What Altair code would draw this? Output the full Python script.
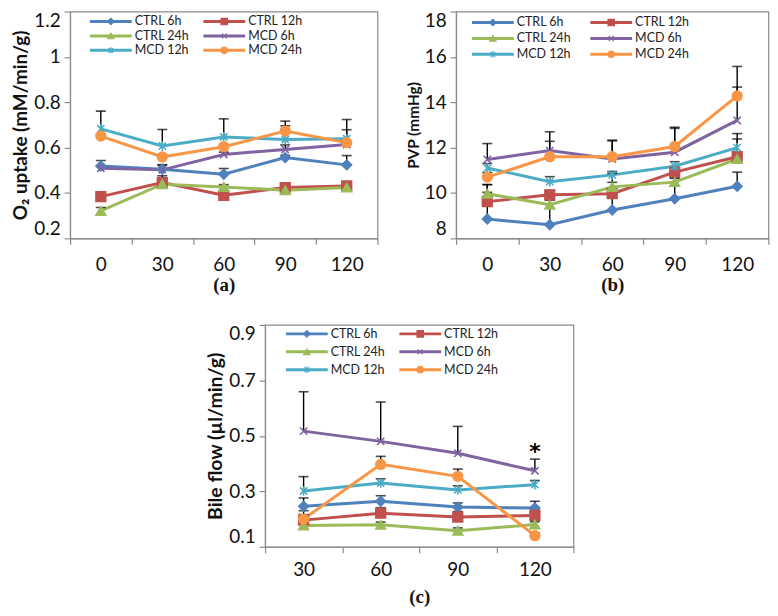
import altair as alt
import pandas as pd

# ---------------- data ----------------
SERIES = ["CTRL 6h", "CTRL 12h", "CTRL 24h", "MCD 6h", "MCD 12h", "MCD 24h"]
COLORS = ["#4F81BD", "#C0504D", "#9BBB59", "#8064A2", "#4BACC6", "#F79646"]

TIMES_AB = ["0", "30", "60", "90", "120"]
TIMES_C = ["30", "60", "90", "120"]

# (a) O2 uptake (mM/min/g)
O2_CTRL_6H = [0.519, 0.505, 0.483, 0.556, 0.524]
O2_CTRL_12H = [0.384, 0.446, 0.390, 0.424, 0.431]
O2_CTRL_24H = [0.321, 0.439, 0.427, 0.412, 0.424]
O2_MCD_6H = [0.509, 0.502, 0.570, 0.592, 0.614]
O2_MCD_12H = [0.683, 0.607, 0.647, 0.636, 0.639]
O2_MCD_24H = [0.651, 0.559, 0.604, 0.673, 0.622]
O2_CTRL_6H_ERR = [0.024, 0.020, 0.025, 0.010, 0.041]
O2_CTRL_12H_ERR = [0.010, 0.030, 0.010, 0.010, 0.010]
O2_CTRL_24H_ERR = [0.015, 0.010, 0.010, 0.010, 0.010]
O2_MCD_6H_ERR = [0.010, 0.020, 0.010, 0.020, 0.010]
O2_MCD_12H_ERR = [0.078, 0.073, 0.080, 0.060, 0.085]
O2_MCD_24H_ERR = [0.010, 0.010, 0.010, 0.044, 0.057]

# (b) PVP (mmHg)
PVP_CTRL_6H = [8.85, 8.60, 9.25, 9.75, 10.30]
PVP_CTRL_12H = [9.62, 9.92, 9.97, 10.92, 11.60]
PVP_CTRL_24H = [9.97, 9.48, 10.27, 10.48, 11.50]
PVP_MCD_6H = [11.48, 11.87, 11.50, 11.80, 13.20]
PVP_MCD_12H = [11.10, 10.50, 10.80, 11.18, 12.00]
PVP_MCD_24H = [10.70, 11.60, 11.60, 12.05, 14.28]
PVP_CTRL_6H_ERR = [1.18, 1.30, 0.90, 0.90, 0.62]
PVP_CTRL_12H_ERR = [0.75, 0.20, 0.90, 0.20, 0.78]
PVP_CTRL_24H_ERR = [0.40, 0.20, 0.20, 0.20, 0.20]
PVP_MCD_6H_ERR = [0.70, 0.83, 0.80, 1.05, 1.47]
PVP_MCD_12H_ERR = [0.20, 0.22, 0.15, 0.20, 0.62]
PVP_MCD_24H_ERR = [0.20, 0.68, 0.73, 0.85, 1.30]

# (c) Bile flow (ul/min/g)
BILE_CTRL_6H = [0.246, 0.264, 0.243, 0.240]
BILE_CTRL_12H = [0.196, 0.221, 0.207, 0.213]
BILE_CTRL_24H = [0.177, 0.179, 0.158, 0.180]
BILE_MCD_6H = [0.517, 0.480, 0.437, 0.374]
BILE_MCD_12H = [0.301, 0.330, 0.305, 0.324]
BILE_MCD_24H = [0.200, 0.397, 0.354, 0.140]
BILE_CTRL_6H_ERR = [0.030, 0.020, 0.015, 0.024]
BILE_CTRL_12H_ERR = [0.020, 0.020, 0.020, 0.020]
BILE_CTRL_24H_ERR = [0.010, 0.010, 0.010, 0.010]
BILE_MCD_6H_ERR = [0.142, 0.142, 0.097, 0.042]
BILE_MCD_12H_ERR = [0.052, 0.015, 0.015, 0.015]
BILE_MCD_24H_ERR = [0.030, 0.029, 0.026, 0.010]

STAR_TIME = ["120"]
STAR_VALUE = [0.44]

LEG_COL = [0, 1, 0, 1, 0, 1]
LEG_ROW = [0, 0, 1, 1, 2, 2]

# ---------------- styling ----------------
FONT = "Lato"
SHAPES = [
    "diamond",
    "square",
    "triangle-up",
    "M-0.75,-0.75L0.75,0.75M0.75,-0.75L-0.75,0.75",
    "M-0.75,-0.75L0.75,0.75M0.75,-0.75L-0.75,0.75M0,-1L0,1",
    "circle",
]
SIZES = [95, 95, 105, 110, 130, 150]

color_scale = alt.Scale(domain=SERIES, range=COLORS)
shape_scale = alt.Scale(domain=SERIES, range=SHAPES)
size_scale = alt.Scale(domain=SERIES, range=SIZES)


def build_df(times, vals, errs):
    rows = []
    for s, v, e in zip(SERIES, vals, errs):
        for t, vv, ee in zip(times, v, e):
            rows.append({"time": t, "series": s, "value": vv, "top": vv + ee})
    return pd.DataFrame(rows)


def panel(df, times, ydom, yvals, ytitle, ytitle_size, caption, w, h,
          leg_x, leg_y, xlabpad, xtitlepad, star=None):
    base = alt.Chart(df)
    x = alt.X("time:N", sort=times,
              scale=alt.Scale(domain=times, paddingInner=0, paddingOuter=0),
              axis=alt.Axis(title=caption, labelAngle=0, tickBand="extent",
                            labelPadding=xlabpad,
                            titleFont="Liberation Serif", titleFontSize=19,
                            titleFontWeight="bold", titlePadding=xtitlepad))
    y = alt.Y("value:Q", scale=alt.Scale(domain=ydom, nice=False, zero=False),
              axis=alt.Axis(title=ytitle, values=yvals, format="~g",
                            labelFlush=True,
                            titleFontSize=ytitle_size, titlePadding=3))
    col = alt.Color("series:N", scale=color_scale, legend=None)
    lines = base.mark_line(strokeWidth=3).encode(
        x=x, y=y, color=col, detail="series:N")
    err = base.mark_rule(color="black", strokeWidth=1.4).encode(
        x=x, y="value:Q", y2="top:Q", detail="series:N")
    caps = base.mark_tick(color="black", thickness=1.6, size=10).encode(
        x=x, y="top:Q", detail="series:N")
    pts = base.mark_point(filled=True, strokeWidth=1.6, opacity=1).encode(
        x=x, y="value:Q",
        color=col,
        stroke=alt.Stroke("series:N", scale=color_scale, legend=None),
        shape=alt.Shape("series:N", scale=shape_scale, legend=None),
        size=alt.Size("series:N", scale=size_scale, legend=None),
    )
    layers = [lines, err, caps, pts]
    if star is not None:
        sdf = pd.DataFrame({"time": star[0], "value": star[1]})
        layers.append(alt.Chart(sdf).mark_text(
            text="*", fontSize=22, fontWeight="bold", font="DejaVu Sans",
            color="black", baseline="middle").encode(x=x, y="value:Q"))
    main = alt.layer(*layers)

    leg = pd.DataFrame({"series": SERIES, "col": LEG_COL, "row": LEG_ROW})
    lb = alt.Chart(leg)
    lx = alt.X("col:O", scale=alt.Scale(type="point", range=leg_x, padding=0),
               axis=None)
    ly = alt.Y("row:O", scale=alt.Scale(type="point", range=leg_y, padding=0),
               axis=None)
    lrule = lb.mark_rule(strokeWidth=3, xOffset=-21, x2Offset=21).encode(
        x=lx, x2="col:O", y=ly, color=col)
    lpts = lb.mark_point(filled=True, strokeWidth=1.2, opacity=1, size=42).encode(
        x=lx, y=ly, color=col,
        stroke=alt.Stroke("series:N", scale=color_scale, legend=None),
        shape=alt.Shape("series:N", scale=shape_scale, legend=None))
    ltxt = lb.mark_text(align="left", baseline="middle", dx=24, font=FONT,
                        fontSize=12.5, color="#222").encode(
        x=lx, y=ly, text="series:N")
    legend = alt.layer(lrule, lpts, ltxt)

    return alt.layer(main, legend).resolve_scale(
        x="independent", y="independent").properties(width=w, height=h)


df_a = build_df(TIMES_AB,
                [O2_CTRL_6H, O2_CTRL_12H, O2_CTRL_24H, O2_MCD_6H, O2_MCD_12H, O2_MCD_24H],
                [O2_CTRL_6H_ERR, O2_CTRL_12H_ERR, O2_CTRL_24H_ERR, O2_MCD_6H_ERR,
                 O2_MCD_12H_ERR, O2_MCD_24H_ERR])
df_b = build_df(TIMES_AB,
                [PVP_CTRL_6H, PVP_CTRL_12H, PVP_CTRL_24H, PVP_MCD_6H, PVP_MCD_12H, PVP_MCD_24H],
                [PVP_CTRL_6H_ERR, PVP_CTRL_12H_ERR, PVP_CTRL_24H_ERR, PVP_MCD_6H_ERR,
                 PVP_MCD_12H_ERR, PVP_MCD_24H_ERR])
df_c = build_df(TIMES_C,
                [BILE_CTRL_6H, BILE_CTRL_12H, BILE_CTRL_24H, BILE_MCD_6H, BILE_MCD_12H, BILE_MCD_24H],
                [BILE_CTRL_6H_ERR, BILE_CTRL_12H_ERR, BILE_CTRL_24H_ERR, BILE_MCD_6H_ERR,
                 BILE_MCD_12H_ERR, BILE_MCD_24H_ERR])

pa = panel(df_a, TIMES_AB, [0.2, 1.2], [0.2, 0.4, 0.6, 0.8, 1.0, 1.2],
           "O₂ uptake (mM/min/g)", 19, "(a)", 309, 228, [41, 155], [10, 39],
           11, 1)
pb = panel(df_b, TIMES_AB, [8, 18], [8, 10, 12, 14, 16, 18],
           "PVP (mmHg)", 15.5, "(b)", 314, 228, [37, 156], [11, 43],
           11, 1)
pc = panel(df_c, TIMES_C, [0.1, 0.9], [0.1, 0.3, 0.5, 0.7, 0.9],
           "Bile flow (µl/min/g)", 19.5, "(c)", 310, 223, [42, 156], [9, 45],
           7.5, 9, star=(STAR_TIME, STAR_VALUE))

top = alt.hconcat(pa, pb, spacing=26)
chart = alt.vconcat(top, pc, spacing=28, center=True).properties(
    padding={"left": 3, "top": 0, "right": 0, "bottom": 0}
).configure_view(
    stroke="#8a8a8a", strokeWidth=1.2
).configure_axis(
    grid=False, labelFont=FONT, labelFontSize=19, labelColor="#111",
    titleFont=FONT, titleFontWeight="bold", titleColor="#111",
    domainColor="#8a8a8a", tickColor="#8a8a8a", tickSize=6, labelPadding=4,
    domainWidth=1.2, tickWidth=1.2
)

chart.save("out.html", embed_options={"renderer": "svg", "actions": False})
